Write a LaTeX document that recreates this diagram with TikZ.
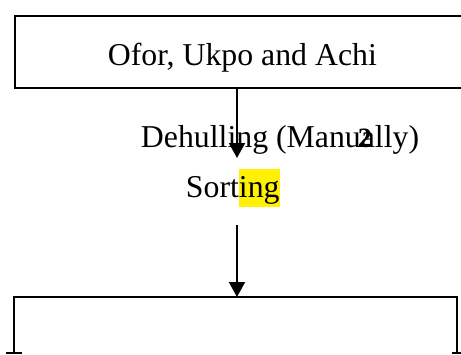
\documentclass[tikz,border=0pt]{standalone}
\usepackage{fontspec}
\setmainfont{Liberation Serif}
\usetikzlibrary{arrows.meta}
\begin{document}
\begin{tikzpicture}[x=1pt,y=-1pt,line width=1.9pt,
  txt/.style={font=\fontsize{31.8}{36}\selectfont, inner sep=0pt, anchor=base west},
  arr/.style={-{Triangle[width=16pt,length=15pt]}},
  boxline/.style={draw=black, line width=1.9pt}]
\useasboundingbox (0,0) rectangle (461,354);
% top box (right edge beyond the page)
\node[boxline, minimum width=456pt, minimum height=72pt, inner sep=0pt, anchor=north west] (topbox) at (14,15) {};
\node[txt] (t1) at (107,65) {Ofor, Ukpo and Achi};
% highlight
\node[fill=yellow, inner sep=0pt, minimum width=41pt, minimum height=38pt, anchor=north west] (hl) at (238,168) {};
\node[txt] (t2) at (140,147) {Dehulling (Manually)};
\node[inner sep=0pt, anchor=base west, font=\fontsize{28}{30}\selectfont\bfseries] (two) at (357,147) {2};
\node[txt] (t3) at (185,197) {Sorting};
% bottom box
\coordinate (bl) at (14,354);
\coordinate (tl) at (14,297);
\coordinate (tr) at (457,297);
\coordinate (br) at (457,354);
\draw (bl) -- (tl) -- (tr) -- (br);
\coordinate (s1a) at (6,353); \coordinate (s1b) at (22,353);
\coordinate (s2a) at (452,353); \coordinate (s2b) at (470,353);
\draw (s1a) -- (s1b);
\draw (s2a) -- (s2b);
% arrows
\coordinate (a1s) at (237,87);
\coordinate (a1e) at (237,158);
\coordinate (a2s) at (237,225);
\coordinate (a2e) at (237,297);
\draw[arr] (a1s) -- (a1e);
\draw[arr] (a2s) -- (a2e);
\end{tikzpicture}
\end{document}
